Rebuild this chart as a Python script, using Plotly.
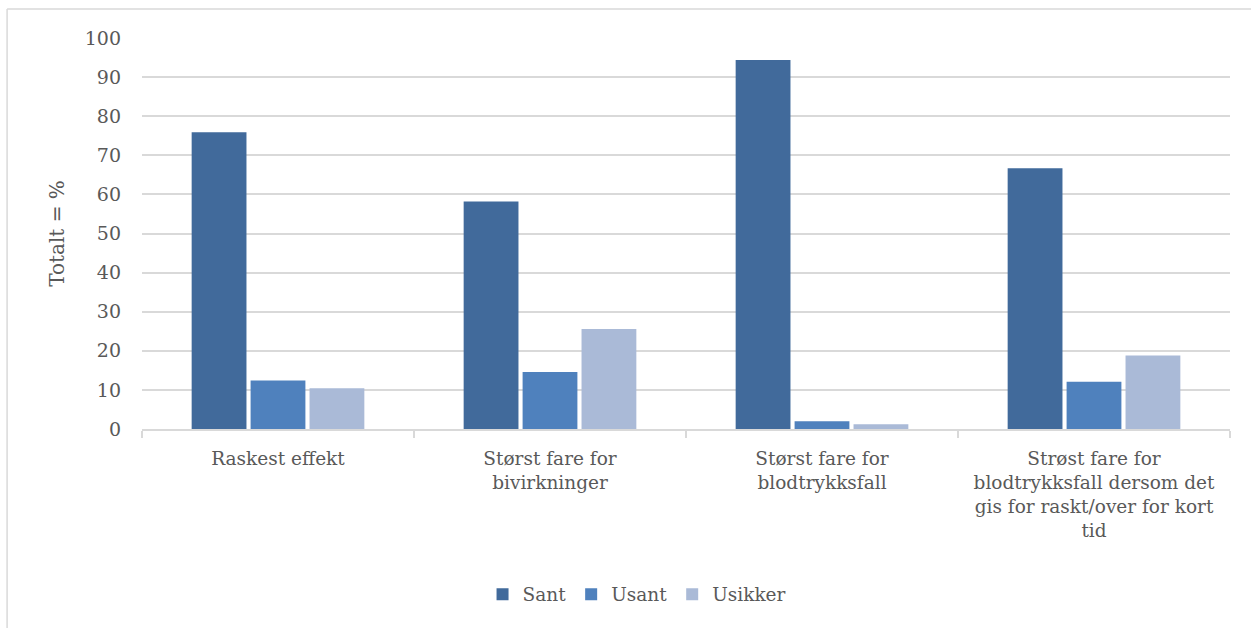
import plotly.graph_objects as go

# Categories (x axis) and the three answer series, in percent
categories = [
    "Raskest effekt",
    "Størst fare for<br>bivirkninger",
    "Størst fare for<br>blodtrykksfall",
    "Strøst fare for<br>blodtrykksfall dersom det<br>gis for raskt/over for kort<br>tid",
]
sant = [75.9, 58.2, 94.4, 66.7]
usant = [12.4, 14.6, 2.0, 12.1]
usikker = [10.4, 25.6, 1.2, 18.8]

series_names = ["Sant", "Usant", "Usikker"]
series_colors = ["#416a9b", "#4f81bd", "#aabad7"]

FONT = "DejaVu Serif"
TEXT = "#595959"
GRID = "#d9d9d9"

fig = go.Figure()
for name, vals, col in zip(series_names, [sant, usant, usikker], series_colors):
    fig.add_trace(go.Bar(
        x=categories, y=vals, name=name,
        marker=dict(color=col, line=dict(width=0)),
    ))

fig.update_layout(
    width=1251, height=628,
    margin=dict(l=142, r=21, t=38, b=199),
    paper_bgcolor="white", plot_bgcolor="white",
    barmode="group", bargap=0.35, bargroupgap=0.07,
    font=dict(family=FONT, color=TEXT, size=18),
    legend=dict(
        orientation="h", x=0.455, xanchor="center", y=-0.375, yanchor="top",
        font=dict(family=FONT, size=18.5, color=TEXT),
        itemwidth=30, traceorder="normal",
    ),
    xaxis=dict(
        type="category", tickson="boundaries",
        ticks="outside", ticklen=7, tickcolor=GRID, tickwidth=1.5,
        ticklabelstandoff=12,
        showline=True, linecolor=GRID, linewidth=1.5,
        showgrid=False, tickfont=dict(family=FONT, size=18.5, color=TEXT),
    ),
    yaxis=dict(
        range=[0, 100], tickvals=list(range(0, 101, 10)),
        showgrid=True, gridcolor=GRID, gridwidth=1.5,
        zeroline=False, showline=False, ticks="",
        ticklabelstandoff=20,
        tickfont=dict(family=FONT, size=19, color=TEXT),
        title=dict(text="Totalt = %", font=dict(family=FONT, size=20, color=TEXT), standoff=14),
    ),
    # thin frame lines along the top and left edges of the page
    shapes=[
        dict(type="line", xref="paper", yref="paper",
             x0=-0.124, x1=1.02, y0=1.074, y1=1.074,
             line=dict(color=GRID, width=1.5)),
        dict(type="line", xref="paper", yref="paper",
             x0=-0.124, x1=-0.124, y0=-0.51, y1=1.074,
             line=dict(color=GRID, width=1.5)),
    ],
)

fig.write_html("out.html")
